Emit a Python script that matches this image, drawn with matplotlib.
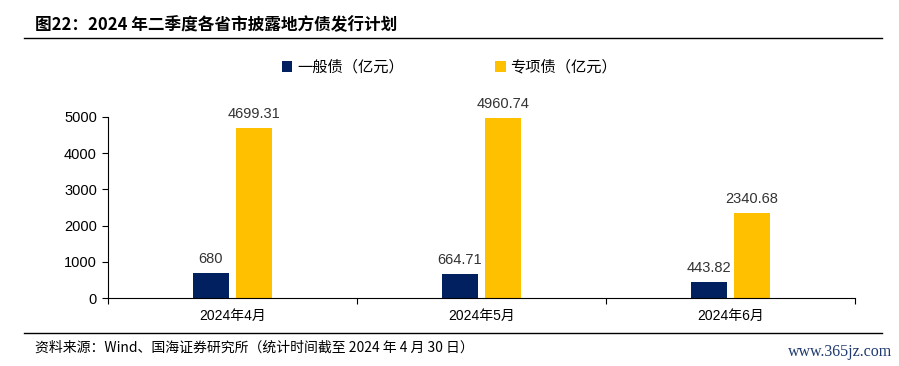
import numpy as np
import matplotlib
matplotlib.use("Agg")
import matplotlib.pyplot as plt
from matplotlib.lines import Line2D

plt.rcParams['font.family'] = ['Noto Sans CJK SC', 'DejaVu Sans']

months = ['2024年4月', '2024年5月', '2024年6月']
general = [680, 664.71, 443.82]
special = [4699.31, 4960.74, 2340.68]
general_labels = ['680', '664.71', '443.82']
special_labels = ['4699.31', '4960.74', '2340.68']

navy = '#002060'
gold = '#FFC000'
mixed = ['Liberation Sans', 'Noto Sans CJK SC']

fig = plt.figure(figsize=(8.99, 3.66), dpi=100)
ax = fig.add_axes([108/899, 1-298/366, (855-108)/899, (298-117)/366 * 5200/5000])

x = np.arange(len(months))
w = 0.145
off = 0.087
ax.bar(x - off, general, w, color=navy, label='一般债（亿元）')
ax.bar(x + off, special, w, color=gold, label='专项债（亿元）')

for i in range(len(months)):
    ax.text(x[i] - off, general[i] + 200, general_labels[i], ha='center', va='bottom',
            fontsize=10.5, color='#333333', family='Liberation Sans')
    ax.text(x[i] + off, special[i] + 200, special_labels[i], ha='center', va='bottom',
            fontsize=10.5, color='#333333', family='Liberation Sans')

ax.set_xlim(-0.5, 2.5)
ax.set_ylim(0, 5200)
ax.set_yticks([0, 1000, 2000, 3000, 4000, 5000])
ax.set_yticklabels(['0', '1000', '2000', '3000', '4000', '5000'], family='Liberation Sans', fontsize=10.5)
ax.set_xticks([-0.5, 0.5, 1.5, 2.5])
ax.set_xticklabels([])
ax.set_xticks(x, minor=True)
ax.set_xticklabels(months, minor=True, fontsize=10, family=mixed)
ax.tick_params(axis='x', which='minor', length=0, pad=8)
ax.tick_params(axis='x', which='major', length=4, direction='out', color='black')
ax.tick_params(axis='y', length=4, direction='out', pad=4)
for s in ['top', 'right']:
    ax.spines[s].set_visible(False)
ax.spines['left'].set_bounds(0, 5000)
ax.spines['left'].set_color('black')
ax.spines['bottom'].set_color('black')

fig.legend(loc='center', bbox_to_anchor=(0.5, 1-67/366), ncol=2, frameon=False,
           fontsize=11, handlelength=0.7, handleheight=0.7, columnspacing=6, handletextpad=0.3)

fig.text(35/899, 1-25/366, '图22：2024 年二季度各省市披露地方债发行计划', fontsize=12,
         fontweight='bold', va='center', ha='left')
fig.add_artist(Line2D([24/899, 882/899], [1-38/366, 1-38/366], color='black', lw=1))
fig.add_artist(Line2D([24/899, 882/899], [1-333/366, 1-333/366], color='black', lw=1))
fig.text(35/899, 1-348/366, '资料来源：Wind、国海证券研究所（统计时间截至 2024 年 4 月 30 日）', fontsize=10,
         va='center', ha='left')
fig.text(892/899, 1-352/366, 'www.365jz.com', fontsize=11.5, color='#1F3A6E',
         va='center', ha='right', family='Liberation Serif')

fig.savefig('out.png', dpi=100)
